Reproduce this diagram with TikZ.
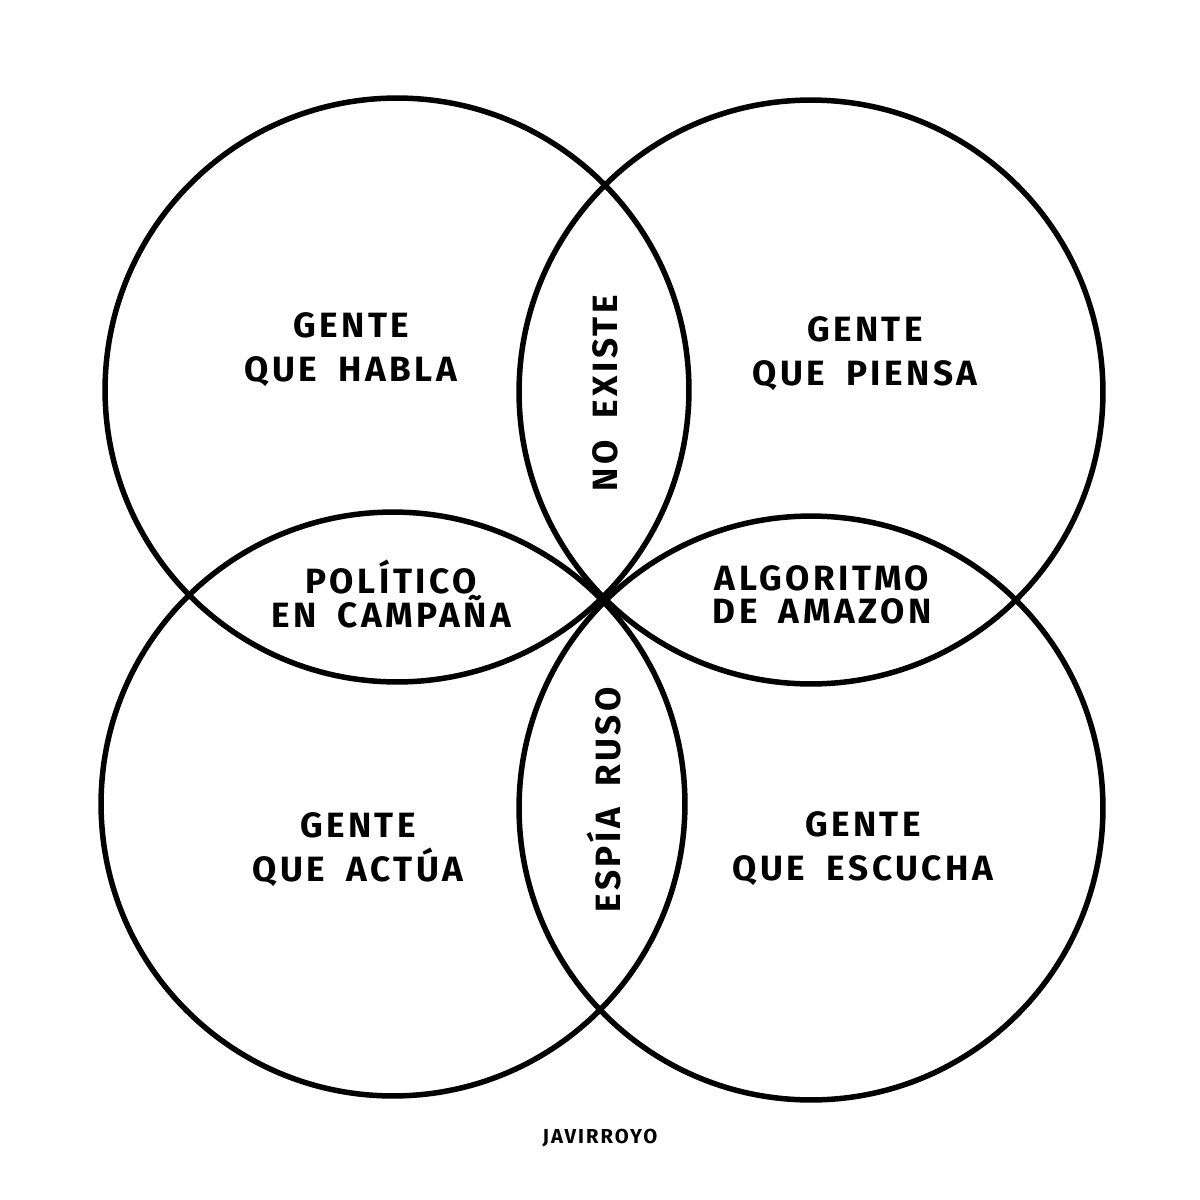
\documentclass[tikz,border=0pt]{standalone}
\usepackage{fontspec}
\newfontfamily\hand[LetterSpace=10,WordSpace=1.8]{Fira Sans}
\begin{document}
\begin{tikzpicture}[x=0.02cm,y=-0.02cm,
  venn/.style={circle,draw=black,line width=0.11cm,minimum size=11.68cm,inner sep=0pt},
  lbl/.style={align=center,inner sep=0pt,font=\hand\bfseries\fontsize{20}{25}\selectfont},
  lbltight/.style={align=center,inner sep=0pt,font=\hand\bfseries\fontsize{20}{19}\selectfont},
  sig/.style={inner sep=0pt,font=\hand\bfseries\fontsize{11.5}{13}\selectfont}]
\fill[white] (0,0) rectangle (1200,1200);
\useasboundingbox (0,0) rectangle (1200,1200);
\node[venn] (tl) at (397,390) {};
\node[venn] (tr) at (811,392) {};
\node[venn] (bl) at (393,804) {};
\node[venn] (br) at (811,808) {};
\node[lbl] (habla) at (351,350) {GENTE\\QUE HABLA};
\node[lbl] (piensa) at (865,354) {GENTE\\QUE PIENSA};
\node[lbl,rotate=90] (noexiste) at (605,393) {NO EXISTE};
\node[lbltight] (politico) at (391,594) {POLÍTICO\\EN CAMPAÑA};
\node[lbltight] (algoritmo) at (822,595) {ALGORITMO\\DE AMAZON};
\node[lbl,rotate=90] (espia) at (604,800) {ESPÍA RUSO};
\node[lbl] (actua) at (358,850) {GENTE\\QUE ACTÚA};
\node[lbl] (escucha) at (863,849) {GENTE\\QUE ESCUCHA};
\node[sig] (firma) at (600,1138) {JAVIRROYO};
\end{tikzpicture}
\end{document}
